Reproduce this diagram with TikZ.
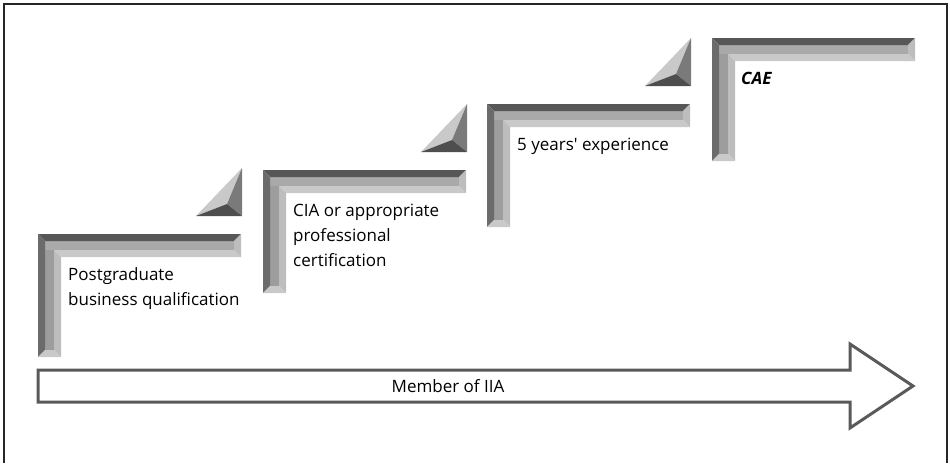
\documentclass[tikz,border=0pt]{standalone}
\usepackage{fontspec}
\setmainfont{Open Sans}
\usepackage{tikz}
\definecolor{bevtop}{HTML}{575757}
\definecolor{bevleft}{HTML}{6B6B6B}
\definecolor{facetop}{HTML}{A9A9A9}
\definecolor{faceleft}{HTML}{9D9D9D}
\definecolor{bevlow}{HTML}{C9C9C9}
\definecolor{bevend}{HTML}{BDBDBD}
\definecolor{arrowline}{HTML}{5A5A5A}
\newcommand{\lbl}[1]{\fontsize{17}{25}\selectfont #1} % Step text.
% One raised L-shaped step, top-left corner at (#1,#2).
\newcommand{\bevelstep}[2]{%
  \begin{scope}[shift={(#1,#2)}]
    \fill[faceleft] (7,7) rectangle (16,116);
    \fill[facetop] (7,7) rectangle (196,16);
    \fill[bevtop] (0,0) -- (203,0) -- (196,7) -- (7,7) -- cycle;
    \fill[bevleft] (0,0) -- (7,7) -- (7,116) -- (0,123) -- cycle;
    \fill[bevlow] (16,16) -- (196,16) -- (203,23) -- (23,23) -- cycle;
    \fill[bevend] (203,0) -- (203,23) -- (196,16) -- (196,7) -- cycle;
    \fill[bevend] (16,16) -- (23,23) -- (23,123) -- (16,116) -- cycle;
    \fill[bevlow] (0,123) -- (7,116) -- (16,116) -- (23,123) -- cycle;
  \end{scope}}
% Bevelled corner piece above the end of a step.
\newcommand{\bevelcorner}[2]{%
  \begin{scope}[shift={(#1,#2)}]
    \fill[bevlow] (204,-66) -- (158,-18) -- (189,-30) -- cycle;
    \fill[black!52] (204,-66) -- (189,-30) -- (204,-18) -- cycle;
    \fill[bevtop!90!black] (158,-18) -- (189,-30) -- (204,-18) -- cycle;
  \end{scope}}

\begin{document}
\begin{tikzpicture}[x=1pt,y=-1pt,
    steptext/.style={anchor=base west,align=left,inner sep=0pt,font=\lbl},
    bigarrow/.style={draw=arrowline,line width=3pt,line join=miter,fill=white}]
\useasboundingbox (0,0) rectangle (950,463);
% frame
\draw[black!85,line width=1.3pt] (4,463) -- (4,4) -- (947,4) -- (947,463);

% steps
\foreach \x/\y in {38/234, 263/170, 487/104, 712/38}
  \bevelstep{\x}{\y};
\foreach \x/\y in {38/234, 263/170, 487/104}
  \bevelcorner{\x}{\y};

% base anchor sits on the last line
\node[steptext] (qual) at (68,305) {Postgraduate\\business qualification};
\node[steptext] (cert) at (293,266) {CIA or appropriate\\professional\\certification};
\node[steptext] (exper) at (517,150) {5 years\textquotesingle\ experience};
\node[steptext] (cae) at (741,84) {\textbf{\textit{CAE}}};

% membership arrow
\draw[bigarrow] (38,370) -- (850,370) -- (850,344) -- (913,386)
  -- (850,428) -- (850,402) -- (38,402) -- cycle;
\node[font=\lbl] (member) at (448,386) {Member of IIA};
\end{tikzpicture}
\end{document}
